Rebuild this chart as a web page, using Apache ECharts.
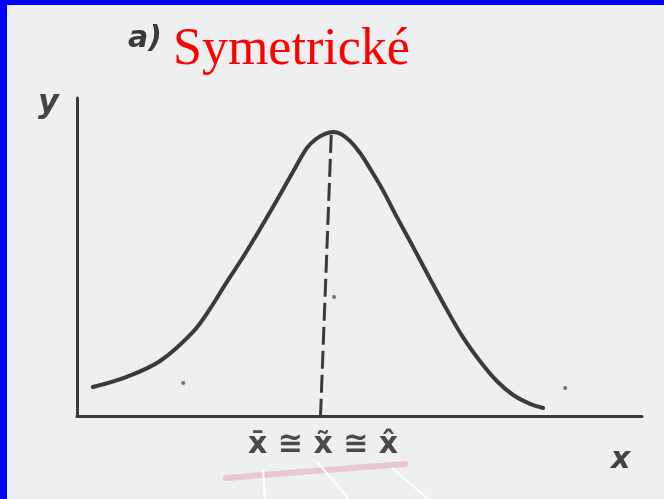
<!DOCTYPE html>
<html>
<head>
<meta charset="utf-8">
<script src="https://cdn.jsdelivr.net/npm/echarts@6/dist/echarts.min.js"></script>
<style>
  html, body { margin: 0; padding: 0; }
  #chart { width: 664px; height: 499px; }
</style>
</head>
<body>
<div id="chart"></div>
<script>
// hand drawn bell curve (x 0..100, y 0..100)
var curveX = [2.8, 8.8, 14.7, 20.5, 23.5, 26.5, 29.4, 32.4, 35.4, 38.2, 40.7, 42.3, 43.9, 45.3,
              46.7, 48.3, 50.1, 51.9, 54.2, 56.6, 59.5, 62.5, 65.5, 68.3, 71.3, 74.3, 77.2, 80.2, 82.5];
var curveY = [9.1, 12.3, 17.3, 26.4, 33.6, 42.1, 50.0, 58.8, 67.9, 76.7, 84.3, 87.1, 88.7, 89.3,
              88.7, 86.5, 82.7, 77.7, 70.8, 62.6, 53.1, 43.1, 33.3, 24.8, 17.3, 11.0, 6.6, 3.8, 2.5];
// dashed line at the mode (top, bottom)
var modeX = [45.0, 43.1];
var modeY = [88.4, 0];
// stray dots on the scan
var dotX = [18.8, 45.5, 86.4];
var dotY = [10.4, 37.4, 8.8];

var ink = '#3b3b3d';

function pairs(xs, ys) {
  var out = [];
  xs.forEach(function (v, i) { out.push([v, ys[i]]); });
  return out;
}

var myChart = echarts.init(document.getElementById('chart'));

var option = {
  backgroundColor: '#edeff1',
  animation: false,
  title: {
    text: 'Symetrické',
    left: 173,
    top: 24,
    padding: 0,
    textStyle: {
      color: '#ff0000',
      fontFamily: 'Liberation Serif',
      fontSize: 52,
      fontWeight: 'normal'
    }
  },
  grid: { left: 77, right: 22, top: 98, bottom: 83 },
  xAxis: {
    type: 'value',
    min: 0,
    max: 100,
    axisLine: { show: true, lineStyle: { color: ink, width: 3 } },
    axisTick: { show: false },
    axisLabel: { show: false },
    splitLine: { show: false }
  },
  yAxis: {
    type: 'value',
    min: 0,
    max: 100,
    axisLine: { show: true, lineStyle: { color: ink, width: 3 } },
    axisTick: { show: false },
    axisLabel: { show: false },
    splitLine: { show: false }
  },
  series: [
    {
      type: 'line',
      data: pairs(curveX, curveY),
      smooth: 0.35,
      symbol: 'none',
      clip: false,
      lineStyle: { color: ink, width: 4, cap: 'round' }
    },
    {
      type: 'line',
      data: pairs(modeX, modeY),
      symbol: 'none',
      clip: false,
      lineStyle: { color: ink, width: 3, type: [18, 6] }
    },
    {
      type: 'scatter',
      data: pairs(dotX, dotY),
      symbolSize: 4,
      itemStyle: { color: '#555' }
    }
  ],
  graphic: [
    // blue frame of the slide
    { type: 'rect', left: 0, top: 0, shape: { width: 7, height: 499 }, style: { fill: '#0000ff' }, z: 100 },
    { type: 'rect', left: 0, top: 0, shape: { width: 664, height: 5 }, style: { fill: '#0000ff' }, z: 100 },
    // pink marker smear under the labels
    { type: 'polyline', shape: { points: [[226, 478], [300, 472], [405, 464]] },
      style: { stroke: 'rgba(228,150,165,0.45)', lineWidth: 6, lineCap: 'round', fill: null } },
    // white pointer lines
    { type: 'line', shape: { x1: 263, y1: 470, x2: 265, y2: 499 }, style: { stroke: '#ffffff', lineWidth: 2 } },
    { type: 'line', shape: { x1: 318, y1: 463, x2: 349, y2: 499 }, style: { stroke: '#ffffff', lineWidth: 2 } },
    { type: 'line', shape: { x1: 392, y1: 468, x2: 428, y2: 499 }, style: { stroke: '#ffffff', lineWidth: 2 } },
    // handwritten labels
    { type: 'text', left: 128, top: 24,
      style: { text: 'a)', font: 'italic bold 30px "DejaVu Sans"', fill: '#3a3a3a' } },
    { type: 'text', left: 38, top: 88,
      style: { text: 'y', font: 'italic bold 32px "DejaVu Sans"', fill: '#444' } },
    { type: 'text', left: 611, top: 445,
      style: { text: 'x', font: 'italic bold 30px "DejaVu Sans"', fill: '#444' } },
    { type: 'text', left: 248, top: 430,
      style: { text: 'x\u0304 \u2245 x\u0303 \u2245 x\u0302', font: 'bold 30px "DejaVu Sans"', fill: '#4a4a4a' } }
  ]
};

myChart.setOption(option);
</script>
</body>
</html>
